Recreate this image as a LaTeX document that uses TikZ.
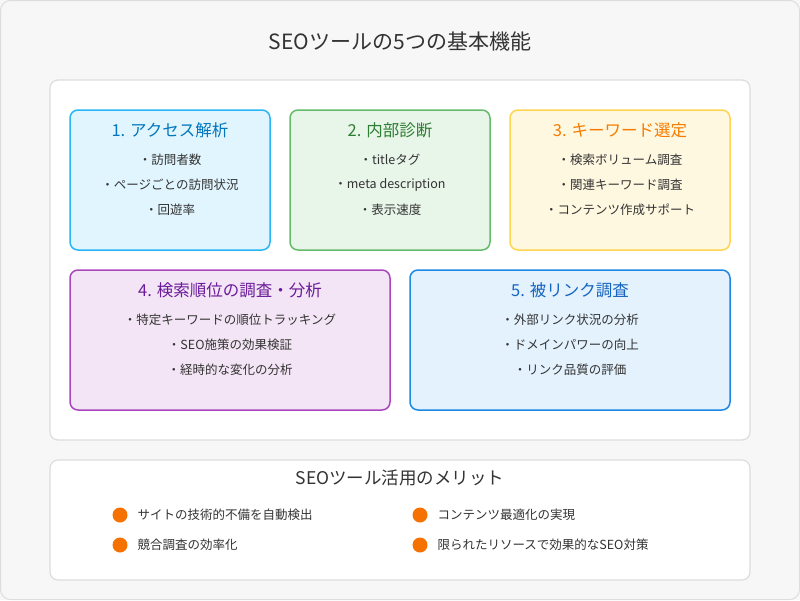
\documentclass[tikz,border=0pt]{standalone}
\usepackage{fontspec}
\setmainfont{Noto Sans CJK JP}
\definecolor{bgc}{HTML}{F7F7F7}
\definecolor{edgec}{HTML}{DDDDDD}
\definecolor{dotc}{HTML}{F57200}
\definecolor{bdA}{HTML}{29B6F6}\definecolor{fiA}{HTML}{E1F5FE}\definecolor{txA}{HTML}{0277BD}
\definecolor{bdB}{HTML}{66BB6A}\definecolor{fiB}{HTML}{E8F5E9}\definecolor{txB}{HTML}{2E7D32}
\definecolor{bdC}{HTML}{FFD54F}\definecolor{fiC}{HTML}{FFF8E1}\definecolor{txC}{HTML}{F57C00}
\definecolor{bdD}{HTML}{AB47BC}\definecolor{fiD}{HTML}{F3E5F5}\definecolor{txD}{HTML}{6A1B9A}
\definecolor{bdE}{HTML}{1E88E5}\definecolor{fiE}{HTML}{E3F2FD}\definecolor{txE}{HTML}{1565C0}
\tikzset{
    panel/.style={draw=edgec, line width=1.2pt, fill=white, rounded corners=8pt},
    card/.style={line width=1.5pt, rounded corners=8pt},
    cardtitle/.style={font=\fontsize{16.5}{19}\selectfont},
    item/.style={font=\fontsize{12.5}{15}\selectfont, text=black!80},
    dot/.style={circle, fill=dotc, minimum size=15pt, inner sep=0pt},
}
\def\bounding{(0,0) rectangle (800,600)}
\begin{document}
\begin{tikzpicture}[x=1pt, y=-1pt]

    \fill[bgc] \bounding;
    \useasboundingbox \bounding;
    \draw[edgec, line width=1pt, rounded corners=10pt] (0.5,0.5) rectangle (799.5,599.5);

    \node (title) [font=\fontsize{21}{25}\selectfont, text=black!80] at (400,42) {SEOツールの5つの基本機能};
    \draw[panel] (50,80) rectangle (750,440);

    % feature cards
    \draw[card, draw=bdA, fill=fiA] (70,110) rectangle (270,250);
    \draw[card, draw=bdB, fill=fiB] (290,110) rectangle (490,250);
    \draw[card, draw=bdC, fill=fiC] (510,110) rectangle (730,250);
    \draw[card, draw=bdD, fill=fiD] (70,270) rectangle (390,410);
    \draw[card, draw=bdE, fill=fiE] (410,270) rectangle (730,410);

    \node (t1) [cardtitle, text=txA] at (170,130) {1. アクセス解析};
    \node (a1) [item] at (170,160) {・訪問者数};
    \node (a2) [item] at (170,185) {・ページごとの訪問状況};
    \node (a3) [item] at (170,210) {・回遊率};

    \node (t2) [cardtitle, text=txB] at (390,130) {2. 内部診断};
    \node (b1) [item] at (390,160) {・titleタグ};
    \node (b2) [item] at (390,185) {・meta description};
    \node (b3) [item] at (390,210) {・表示速度};

    \node (t3) [cardtitle, text=txC] at (620,130) {3. キーワード選定};
    \node (c1) [item] at (620,160) {・検索ボリューム調査};
    \node (c2) [item] at (620,185) {・関連キーワード調査};
    \node (c3) [item] at (620,210) {・コンテンツ作成サポート};

    \node (t4) [cardtitle, text=txD] at (230,290) {4. 検索順位の調査・分析};
    \node (d1) [item] at (230,320) {・特定キーワードの順位トラッキング};
    \node (d2) [item] at (230,345) {・SEO施策の効果検証};
    \node (d3) [item] at (230,370) {・経時的な変化の分析};

    \node (t5) [cardtitle, text=txE] at (570,290) {5. 被リンク調査};
    \node (e1) [item] at (570,320) {・外部リンク状況の分析};
    \node (e2) [item] at (570,345) {・ドメインパワーの向上};
    \node (e3) [item] at (570,370) {・リンク品質の評価};

    % merits
    \draw[panel] (50,460) rectangle (750,580);
    \node (merit) [font=\fontsize{17.5}{21}\selectfont, text=black!80] at (400,478) {SEOツール活用のメリット};
    \node (m1) [dot] at (120,515) {};
    \node (m2) [dot] at (120,545) {};
    \node (m3) [dot] at (420,515) {};
    \node (m4) [dot] at (420,545) {};
    \node (n1) [item, anchor=west] at (134,515) {サイトの技術的不備を自動検出};
    \node (n2) [item, anchor=west] at (134,545) {競合調査の効率化};
    \node (n3) [item, anchor=west] at (434,515) {コンテンツ最適化の実現};
    \node (n4) [item, anchor=west] at (434,545) {限られたリソースで効果的なSEO対策};

\end{tikzpicture}
\end{document}
